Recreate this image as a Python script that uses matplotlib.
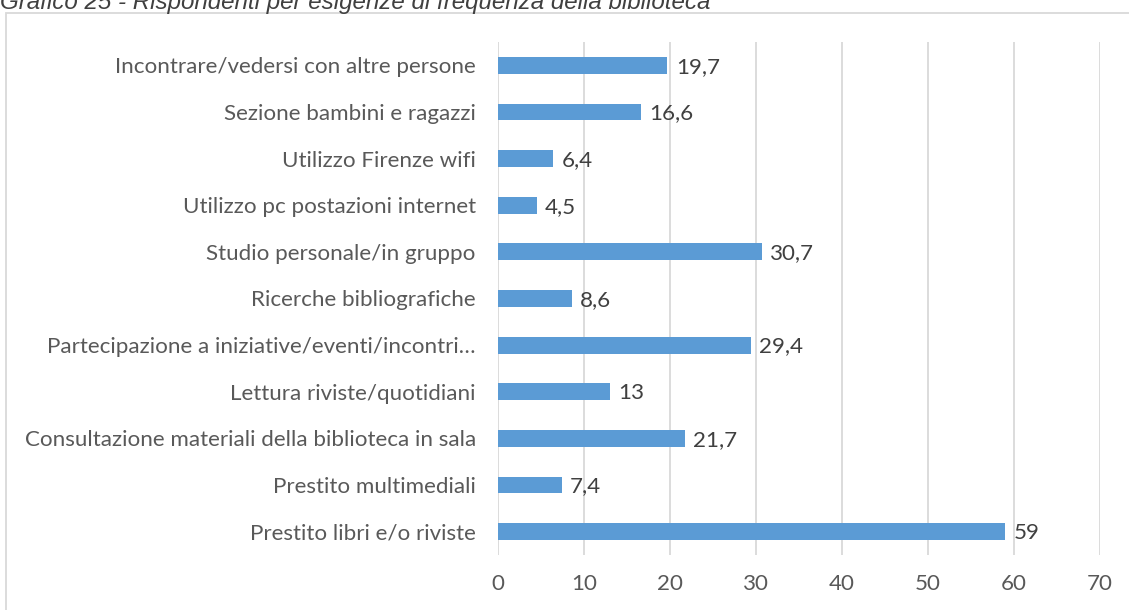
import matplotlib
matplotlib.use("Agg")
import matplotlib.pyplot as plt
from matplotlib.patches import Rectangle

categories = [
    "Prestito libri e/o riviste",
    "Prestito multimediali",
    "Consultazione materiali della biblioteca in sala",
    "Lettura riviste/quotidiani",
    "Partecipazione a iniziative/eventi/incontri…",
    "Ricerche bibliografiche",
    "Studio personale/in gruppo",
    "Utilizzo pc postazioni internet",
    "Utilizzo Firenze wifi",
    "Sezione bambini e ragazzi",
    "Incontrare/vedersi con altre persone",
]
values = [59, 7.4, 21.7, 13, 29.4, 8.6, 30.7, 4.5, 6.4, 16.6, 19.7]
xticks = [0, 10, 20, 30, 40, 50, 60, 70]
title = "Grafico 25 - Rispondenti per esigenze di frequenza della biblioteca"

W, H = 1129, 610
fig = plt.figure(figsize=(W / 100, H / 100), dpi=100)
fig.patch.set_facecolor("white")

# outer frame (chart area border)
fig.add_artist(Rectangle((6 / W, -0.05), 1.2, 1.05 - 13 / H, transform=fig.transFigure,
                         fill=False, edgecolor="#D9D9D9", linewidth=1.3))

# title (partly cut at the top, as in the reference)
fig.text(0.0, 1 - 9 / H, title, ha="left", va="baseline", fontsize=17.4,
         style="italic", family="Liberation Sans", color="#404040")

FONT = "Lato"
FS = 16.1

ax = fig.add_axes([498 / W, 1 - 555 / H, (1100 - 498) / W, (555 - 42) / H])
y = list(range(len(categories)))
ax.barh(y, values, height=0.36, color="#5B9BD5", zorder=3)
ax.set_ylim(-0.5, len(categories) - 0.5)
ax.set_xlim(0, 70)
ax.set_xticks(xticks)
ax.set_xticklabels([str(t) for t in xticks])
ax.set_yticks(y)
ax.set_yticklabels(categories)
for s in ax.spines.values():
    s.set_visible(False)
ax.grid(axis="x", color="#D9D9D9", linewidth=1.3, zorder=0)
ax.tick_params(axis="both", length=0, colors="#595959", labelsize=FS)
ax.tick_params(axis="y", pad=16)
ax.tick_params(axis="x", pad=14)
for lab in ax.get_xticklabels() + ax.get_yticklabels():
    lab.set_family(FONT)

for yi, v in zip(y, values):
    txt = f"{v:g}".replace(".", ",")
    ax.annotate(txt, (v, yi), xytext=(6, -1), textcoords="offset points",
                ha="left", va="center", fontsize=FS, color="#404040",
                family=FONT)

fig.savefig("out.png", dpi=100)
